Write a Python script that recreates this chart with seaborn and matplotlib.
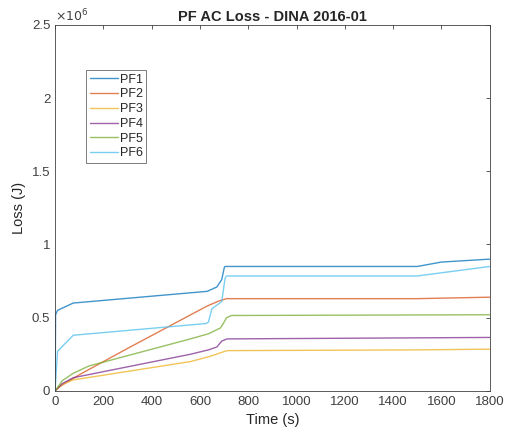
import matplotlib
matplotlib.use('Agg')
import matplotlib.pyplot as plt
import matplotlib.ticker as mticker
import seaborn as sns
import pandas as pd

# time (s) and loss (x1e6 J)
pf1_t = [0, 2, 10, 75, 630, 670, 690, 701, 705, 1500, 1600, 1800]
pf1 = [0, 0.52, 0.55, 0.60, 0.68, 0.71, 0.76, 0.845, 0.85, 0.85, 0.88, 0.90]
pf2_t = [0, 20, 100, 300, 630, 680, 710, 1500, 1800]
pf2 = [0, 0.03, 0.11, 0.29, 0.58, 0.615, 0.63, 0.63, 0.64]
pf3_t = [0, 30, 75, 560, 640, 685, 712, 1500, 1800]
pf3 = [0, 0.045, 0.075, 0.20, 0.235, 0.26, 0.275, 0.28, 0.285]
pf4_t = [0, 30, 75, 560, 635, 670, 690, 712, 1800]
pf4 = [0, 0.05, 0.09, 0.25, 0.28, 0.30, 0.34, 0.355, 0.365]
pf5_t = [0, 30, 75, 140, 560, 635, 660, 685, 700, 710, 730, 1800]
pf5 = [0, 0.07, 0.12, 0.17, 0.355, 0.39, 0.41, 0.43, 0.47, 0.50, 0.515, 0.52]
pf6_t = [0, 10, 75, 625, 635, 649, 690, 704, 710, 1500, 1800]
pf6 = [0, 0.27, 0.38, 0.46, 0.47, 0.56, 0.61, 0.77, 0.785, 0.785, 0.85]

names = ['PF1', 'PF2', 'PF3', 'PF4', 'PF5', 'PF6']
colors = ['#0072BD', '#D95319', '#EDB120', '#7E2F8E', '#77AC30', '#4DBEEE']

frames = []
for n, t, v in zip(names, [pf1_t, pf2_t, pf3_t, pf4_t, pf5_t, pf6_t],
                   [pf1, pf2, pf3, pf4, pf5, pf6]):
    frames.append(pd.DataFrame({'Time': t, 'Loss': [x * 1e6 for x in v], 'coil': n}))
df = pd.concat(frames, ignore_index=True)

sns.set_style('white')
plt.rcParams['font.family'] = ['Liberation Sans', 'DejaVu Sans']

fig = plt.figure(figsize=(5.15, 4.3), dpi=100)
ax = fig.add_axes([0.107, 0.091, 0.844, 0.851])
sns.lineplot(data=df, x='Time', y='Loss', hue='coil', palette=colors,
             estimator=None, sort=False, linewidth=1, alpha=0.75, ax=ax)

ax.set_xlim(0, 1800)
ax.set_ylim(0, 2.5e6)
ax.xaxis.set_major_locator(mticker.MultipleLocator(200))
ax.yaxis.set_major_locator(mticker.MultipleLocator(0.5e6))
ax.yaxis.set_major_formatter(mticker.FuncFormatter(lambda v, p: '%g' % (v / 1e6)))
ax.text(0, 1.003, r'$\times10^{6}$', transform=ax.transAxes, fontsize=9,
        color='#404040', va='bottom', ha='left')
ax.tick_params(direction='in', top=True, right=True, labelsize=9.5,
               colors='#404040', length=3, width=0.6)
for s in ax.spines.values():
    s.set_color('#404040')
    s.set_linewidth(0.6)
ax.set_xlabel('Time (s)', fontsize=10.5, color='#262626')
ax.set_ylabel('Loss (J)', fontsize=10.5, color='#262626')
ax.set_title('PF AC Loss - DINA 2016-01', fontsize=10.5, fontweight='bold', pad=3)

leg = ax.legend(loc='upper left', bbox_to_anchor=(0.072, 0.877), fontsize=9,
                frameon=True, fancybox=False, edgecolor='#404040',
                handlelength=2.2, labelspacing=0.22, borderpad=0.3,
                handletextpad=0.15, borderaxespad=0)
leg.get_frame().set_linewidth(0.6)

fig.savefig('out.png', dpi=100)
